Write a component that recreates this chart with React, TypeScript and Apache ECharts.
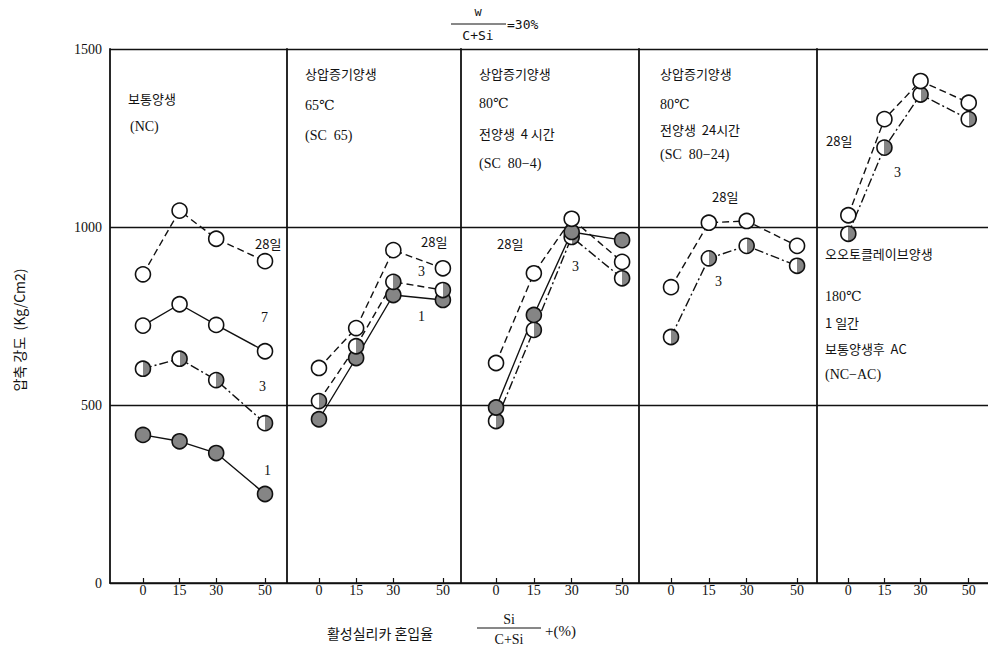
import React, { useEffect, useRef } from "react";
import * as echarts from "echarts";

// Silica replacement ratio Si/(C+Si) (%)
const ratios = [0, 15, 30, 50];

// Panel 1: 보통양생 (NC)
const nc28 = [867, 1046, 967, 904];
const nc7 = [723, 783, 725, 651];
const nc3 = [602, 630, 570, 449];
const nc1 = [416, 398, 365, 250];

// Panel 2: 상압증기양생 65℃ (SC 65)
const sc65d28 = [604, 716, 935, 884];
const sc65d3 = [511, 665, 846, 823];
const sc65d1 = [460, 632, 809, 795];

// Panel 3: 상압증기양생 80℃ 전양생 4시간 (SC 80-4)
const sc804d28 = [618, 870, 1023, 902];
const sc804d3 = [455, 711, 972, 856];
const sc804d1 = [493, 753, 986, 963];

// Panel 4: 상압증기양생 80℃ 전양생 24시간 (SC 80-24)
const sc8024d28 = [831, 1012, 1017, 947];
const sc8024d3 = [691, 912, 947, 891];

// Panel 5: 오오토클레이브양생 (NC-AC)
const ncac28 = [1033, 1303, 1410, 1349];
const ncac3 = [981, 1223, 1372, 1303];

const yTicks = [0, 500, 1000, 1500];

const INK = "#111111";
const GRAY = "#858585";
const SERIF = "'Liberation Serif', 'DejaVu Serif', 'Noto Sans CJK KR', serif";
const KR = "'Noto Sans CJK KR', 'Liberation Serif', serif";
const MONO = "'DejaVu Sans Mono', 'Liberation Mono', monospace";

type Mark = "open" | "half" | "full";
type Dash = "solid" | "dashed" | "dashdot";

const fillFor = (m: Mark): any => {
  if (m === "open") return "#ffffff";
  if (m === "full") return GRAY;
  return new echarts.graphic.LinearGradient(0, 0, 1, 0, [
    { offset: 0, color: "#ffffff" },
    { offset: 0.5, color: "#ffffff" },
    { offset: 0.5, color: GRAY },
    { offset: 1, color: GRAY },
  ]);
};

const dashFor = (d: Dash): any => {
  if (d === "solid") return "solid";
  if (d === "dashed") return [7, 4];
  return [9, 3, 2, 3];
};

const panels: { left: number; right: number; min: number; max: number; series: { name: string; data: number[]; mark: Mark; dash: Dash }[] }[] = [
  {
    left: 110, right: 287, min: -13.5, max: 59,
    series: [
      { name: "NC 28일", data: nc28, mark: "open", dash: "dashed" },
      { name: "NC 7일", data: nc7, mark: "open", dash: "solid" },
      { name: "NC 3일", data: nc3, mark: "half", dash: "dashdot" },
      { name: "NC 1일", data: nc1, mark: "full", dash: "solid" },
    ],
  },
  {
    left: 287, right: 461, min: -12.9, max: 57.3,
    series: [
      { name: "SC65 28일", data: sc65d28, mark: "open", dash: "dashed" },
      { name: "SC65 1일", data: sc65d1, mark: "full", dash: "solid" },
      { name: "SC65 3일", data: sc65d3, mark: "half", dash: "dashed" },
    ],
  },
  {
    left: 461, right: 639, min: -13.9, max: 56.7,
    series: [
      { name: "SC80-4 3일", data: sc804d3, mark: "half", dash: "dashdot" },
      { name: "SC80-4 1일", data: sc804d1, mark: "full", dash: "solid" },
      { name: "SC80-4 28일", data: sc804d28, mark: "open", dash: "dashed" },
    ],
  },
  {
    left: 639, right: 817, min: -12.7, max: 57.9,
    series: [
      { name: "SC80-24 3일", data: sc8024d3, mark: "half", dash: "dashdot" },
      { name: "SC80-24 28일", data: sc8024d28, mark: "open", dash: "dashed" },
    ],
  },
  {
    left: 817, right: 992, min: -13, max: 58,
    series: [
      { name: "NC-AC 3일", data: ncac3, mark: "half", dash: "dashdot" },
      { name: "NC-AC 28일", data: ncac28, mark: "open", dash: "dashed" },
    ],
  },
];

const txt = (x: number, y: number, text: string, opts: any = {}) => ({
  type: "text",
  x,
  y,
  silent: true,
  style: {
    text,
    fill: INK,
    font: opts.font || `13px ${KR}`,
    textAlign: opts.align || "left",
    textVerticalAlign: opts.valign || "middle",
  },
  rotation: opts.rotation || 0,
});

const hline = (x1: number, x2: number, y: number) => ({
  type: "line",
  silent: true,
  shape: { x1, y1: y, x2, y2: y },
  style: { stroke: INK, lineWidth: 1 },
});

export default function App() {
  const ref = useRef<HTMLDivElement>(null);
  useEffect(() => {
    if (!ref.current) return;
    const chart = echarts.init(ref.current, null, { renderer: "svg" });
    const grids: any[] = [];
    const xAxes: any[] = [];
    const yAxes: any[] = [];
    const series: any[] = [];
    panels.forEach((p, i) => {
      grids.push({ left: p.left, width: p.right - p.left, top: 49, bottom: 66, containLabel: false });
      xAxes.push({
        type: "value",
        gridIndex: i,
        min: p.min,
        max: p.max,
        splitLine: { show: false },
        axisLine: { show: true, onZero: false, lineStyle: { color: INK, width: 1.6 } },
        axisTick: {
          show: true,
          inside: true,
          length: 5,
          customValues: ratios,
          lineStyle: { color: INK, width: 1.2 },
        },
        axisLabel: {
          customValues: ratios,
          color: INK,
          fontFamily: SERIF,
          fontSize: 14,
          margin: 0,
        },
      });
      yAxes.push({
        type: "value",
        gridIndex: i,
        min: 0,
        max: 1500,
        interval: 500,
        axisLine: { show: true, onZero: false, lineStyle: { color: INK, width: 1.8 } },
        axisTick: { show: false },
        axisLabel: {
          show: i === 0,
          color: INK,
          fontFamily: SERIF,
          fontSize: 14,
          margin: 8,
          customValues: yTicks,
          formatter: (v: number) => String(v),
        },
        splitLine: { show: true, lineStyle: { color: INK, width: 1.3 } },
      });
      p.series.forEach((s) => {
        series.push({
          name: s.name,
          type: "line",
          xAxisIndex: i,
          yAxisIndex: i,
          data: s.data.map((v, k) => [ratios[k], v]),
          symbol: "circle",
          symbolSize: 15,
          showAllSymbol: true,
          lineStyle: { color: INK, width: 1.4, type: dashFor(s.dash) },
          itemStyle: { color: fillFor(s.mark), borderColor: INK, borderWidth: 1.6, opacity: 1 },
          z: 3,
        });
      });
    });

    const graphics: any[] = [
      // top fraction  w/(C+Si) = 30%
      txt(478, 12, "w", { font: `12px ${MONO}`, align: "center" }),
      hline(451, 506, 24),
      txt(478, 35, "C+Si", { font: `13px ${MONO}`, align: "center" }),
      txt(507, 24, "=30%", { font: `13px ${MONO}` }),
      // y axis title
      txt(19, 330, "압축 강도  (Kg/Cm2)", { font: `14px ${KR}`, align: "center", rotation: Math.PI / 2 }),
      // x axis title
      txt(380, 633, "활성실리카 혼입율", { font: `14px ${KR}`, align: "center" }),
      txt(509, 619, "Si", { font: `14px ${SERIF}`, align: "center" }),
      hline(477, 541, 628),
      txt(509, 639, "C+Si", { font: `14px ${SERIF}`, align: "center" }),
      txt(545, 631, "+(%)", { font: `15px ${SERIF}` }),
      // panel 1 annotations
      txt(128, 98, "보통양생"),
      txt(130, 126, "(NC)", { font: `14px ${SERIF}` }),
      txt(255, 243, "28일"),
      txt(261, 317, "7", { font: `14px ${SERIF}` }),
      txt(259, 386, "3", { font: `14px ${SERIF}` }),
      txt(264, 470, "1", { font: `14px ${SERIF}` }),
      // panel 2
      txt(305, 73, "상압증기양생"),
      txt(305, 105, "65℃", { font: `14px ${SERIF}` }),
      txt(305, 135, "(SC  65)", { font: `14px ${SERIF}` }),
      txt(421, 241, "28일"),
      txt(418, 271, "3", { font: `14px ${SERIF}` }),
      txt(418, 316, "1", { font: `14px ${SERIF}` }),
      // panel 3
      txt(479, 73, "상압증기양생"),
      txt(479, 103, "80℃", { font: `14px ${SERIF}` }),
      txt(479, 133, "전양생  4 시간"),
      txt(479, 163, "(SC  80−4)", { font: `14px ${SERIF}` }),
      txt(497, 243, "28일"),
      txt(572, 266, "3", { font: `14px ${SERIF}` }),
      txt(618, 243, "1", { font: `14px ${SERIF}` }),
      // panel 4
      txt(660, 73, "상압증기양생"),
      txt(660, 104, "80℃", { font: `14px ${SERIF}` }),
      txt(660, 129, "전양생  24시간"),
      txt(660, 154, "(SC  80−24)", { font: `14px ${SERIF}` }),
      txt(712, 196, "28일"),
      txt(715, 281, "3", { font: `14px ${SERIF}` }),
      // panel 5
      txt(826, 140, "28일"),
      txt(894, 172, "3", { font: `14px ${SERIF}` }),
      txt(825, 253, "오오토클레이브양생"),
      txt(825, 296, "180℃", { font: `14px ${SERIF}` }),
      txt(825, 322, "1 일간"),
      txt(825, 348, "보통양생후  AC"),
      txt(825, 374, "(NC−AC)", { font: `14px ${SERIF}` }),
    ];

    chart.setOption({
      animation: false,
      backgroundColor: "#ffffff",
      grid: grids,
      xAxis: xAxes,
      yAxis: yAxes,
      series,
      graphic: graphics,
    });
    return () => chart.dispose();
  }, []);
  return <div ref={ref} style={{ width: 988, height: 649, position: "absolute", left: 0, top: 0 }} />;
}
